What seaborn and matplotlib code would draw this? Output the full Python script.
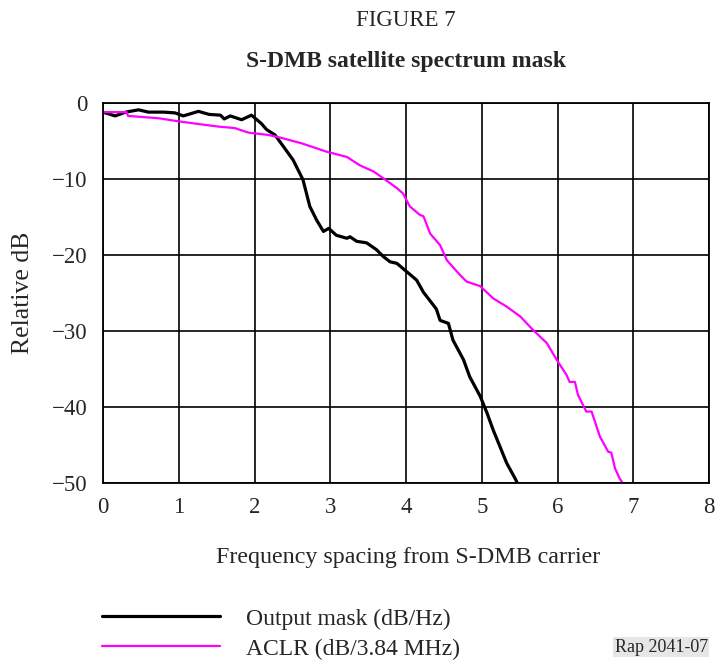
import matplotlib
matplotlib.use("Agg")
import matplotlib.pyplot as plt
import seaborn as sns
import pandas as pd

# Output mask (dB/Hz)
mask_freq = [0.00, 0.16, 0.30, 0.47, 0.60, 0.80, 0.95, 1.06, 1.26, 1.40, 1.55, 1.60,
             1.68, 1.83, 1.96, 2.09, 2.16, 2.27, 2.38, 2.51, 2.64, 2.73, 2.82, 2.91,
             2.98, 3.08, 3.22, 3.26, 3.35, 3.48, 3.61, 3.70, 3.79, 3.88, 4.01, 4.14,
             4.23, 4.40, 4.45, 4.56, 4.62, 4.76, 4.84, 4.98, 5.07, 5.15, 5.24, 5.33,
             5.44, 5.47]
mask_db = [-1.2, -1.7, -1.2, -0.9, -1.2, -1.2, -1.3, -1.7, -1.1, -1.5, -1.6, -2.1,
           -1.7, -2.2, -1.6, -2.7, -3.5, -4.2, -5.7, -7.5, -10.1, -13.6, -15.4, -16.9,
           -16.5, -17.4, -17.8, -17.6, -18.2, -18.4, -19.3, -20.2, -20.9, -21.1, -22.2, -23.3,
           -24.9, -27.1, -28.6, -29.0, -31.2, -33.8, -36.0, -38.6, -40.8, -43.0, -45.2, -47.4,
           -49.4, -50.0]

# ACLR (dB/3.84 MHz)
aclr_freq = [0.00, 0.31, 0.33, 0.73, 0.99, 1.21, 1.52, 1.74, 1.92, 2.18, 2.36, 2.47,
             2.62, 2.80, 2.95, 3.22, 3.39, 3.57, 3.70, 3.88, 3.96, 4.05, 4.18, 4.23,
             4.32, 4.45, 4.54, 4.71, 4.80, 4.98, 5.15, 5.33, 5.51, 5.68, 5.86, 5.99,
             6.12, 6.16, 6.23, 6.27, 6.38, 6.45, 6.56, 6.67, 6.71, 6.76, 6.82, 6.86]
aclr_db = [-1.2, -1.2, -1.7, -2.0, -2.4, -2.7, -3.1, -3.3, -3.9, -4.2, -4.6, -4.9,
           -5.3, -5.9, -6.4, -7.1, -8.2, -9.0, -9.9, -11.2, -11.9, -13.6, -14.7, -14.9,
           -17.2, -18.7, -20.7, -22.6, -23.5, -24.1, -25.7, -26.8, -28.1, -29.9, -31.6, -33.8,
           -35.8, -36.7, -36.7, -38.4, -40.6, -40.6, -43.9, -45.9, -46.0, -48.1, -49.4, -50.0]

x_ticks = [0, 1, 2, 3, 4, 5, 6, 7, 8]
y_ticks = [0, -10, -20, -30, -40, -50]

sns.set_style("white")
plt.rcParams['font.family'] = ['Liberation Serif', 'DejaVu Serif']

df_mask = pd.DataFrame({"freq": mask_freq, "db": mask_db})
df_aclr = pd.DataFrame({"freq": aclr_freq, "db": aclr_db})

fig = plt.figure(figsize=(7.15, 6.66), dpi=100)
ax = fig.add_axes([103 / 715, 1 - 483 / 666, 606 / 715, 380 / 666])

sns.lineplot(data=df_mask, x="freq", y="db", ax=ax, color="black", linewidth=2.3,
             label="Output mask (dB/Hz)", sort=False)
sns.lineplot(data=df_aclr, x="freq", y="db", ax=ax, color="#ff00ff", linewidth=1.6,
             label="ACLR (dB/3.84 MHz)", sort=False)

ax.set_xlim(0, 8)
ax.set_ylim(-50, 0)
ax.set_xticks(x_ticks)
ax.set_yticks(y_ticks)
ax.grid(True, color="black", linewidth=1.2)
ax.set_axisbelow(True)
for s in ax.spines.values():
    s.set_color("black")
    s.set_linewidth(1.3)
ax.tick_params(axis="both", length=0, labelsize=16.5)
ax.tick_params(axis="x", pad=10)
ax.tick_params(axis="y", pad=11)
ax.set_xlabel("")
ax.set_ylabel("")

# legend below the plot
handles, labels = ax.get_legend_handles_labels()
ax.get_legend().remove()
fig.legend(handles, labels, loc="upper left", bbox_to_anchor=(102 / 715, 1 - 608 / 666),
           frameon=False, fontsize=17, handlelength=5.0, handletextpad=1.1,
           labelspacing=0.36, borderpad=0, borderaxespad=0)

fig.text(406 / 715, 1 - 21 / 666, "FIGURE 7", ha="center", va="center", fontsize=16.5)
fig.text(406 / 715, 1 - 62 / 666, "S-DMB satellite spectrum mask", ha="center",
         va="center", fontsize=17, fontweight="bold")
fig.text(23 / 715, 1 - 293 / 666, "Relative dB", ha="center", va="center",
         rotation=90, fontsize=18.5)
fig.text(408 / 715, 1 - 558 / 666, "Frequency spacing from S-DMB carrier", ha="center",
         va="center", fontsize=17.3)
fig.text(708 / 715, 1 - 647 / 666, "Rap 2041-07", ha="right", va="center", fontsize=13,
         bbox=dict(facecolor="#e6e6e6", edgecolor="none", pad=1))

fig.savefig("out.png", dpi=100)
